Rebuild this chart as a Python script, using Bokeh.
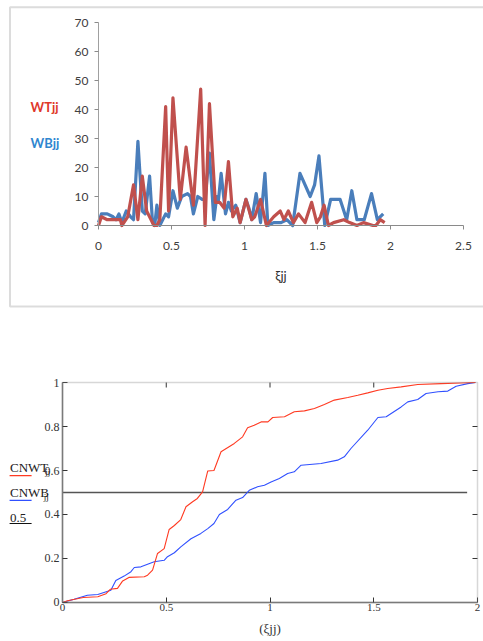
import math
from bokeh.plotting import figure
from bokeh.models import Range1d, FixedTicker, Label, Arrow, BoxAnnotation
from bokeh.layouts import column
from bokeh.embed import file_html
from bokeh.resources import INLINE

# ---------------- data: top chart (WTjj / WBjj vs xi) ----------------
xi_wt = [0, 0.02, 0.06, 0.10, 0.15, 0.16, 0.20, 0.24, 0.27, 0.30,
         0.33, 0.38, 0.40, 0.42, 0.46, 0.48, 0.51, 0.56, 0.60, 0.65,
         0.70, 0.73, 0.76, 0.80, 0.83, 0.86, 0.89, 0.92, 0.95, 0.97,
         1.01, 1.05, 1.07, 1.11, 1.15, 1.20, 1.245, 1.27, 1.30, 1.335,
         1.37, 1.415, 1.46, 1.495, 1.52, 1.545, 1.575, 1.61, 1.68, 1.72,
         1.77, 1.815, 1.88, 1.90, 1.93, 1.96]
wt = [0, 3, 2, 2, 2, 0, 3, 14, 2, 17,
      5, 0, 0, 2, 41, 5, 44, 9, 27, 7,
      47, 0, 42, 8, 8, 6, 22, 3, 6, 1,
      9, 2, 3, 9, 0, 3, 5, 2, 5, 1,
      4, 1, 8, 1, 3, 7, 0, 1, 2, 1,
      0, 1, 0, 0, 2, 1]

xi_wb = [0, 0.02, 0.06, 0.10, 0.12, 0.14, 0.16, 0.19, 0.22, 0.24,
         0.27, 0.30, 0.32, 0.35, 0.37, 0.385, 0.40, 0.42, 0.46, 0.48,
         0.51, 0.54, 0.57, 0.61, 0.63, 0.65, 0.68, 0.71, 0.73, 0.76,
         0.79, 0.81, 0.82, 0.84, 0.87, 0.89, 0.91, 0.94, 0.97, 1.01,
         1.03, 1.05, 1.08, 1.11, 1.14, 1.16, 1.20, 1.25, 1.29, 1.33,
         1.38, 1.45, 1.48, 1.51, 1.55, 1.59, 1.655, 1.70, 1.735, 1.77,
         1.82, 1.87, 1.91, 1.95]
wb = [1, 4, 4, 3, 2, 4, 1, 5, 3, 2,
      29, 5, 4, 17, 1, 0, 7, 0, 4, 3,
      12, 6, 10, 11, 10, 4, 10, 9, 9, 25,
      2, 10, 8, 18, 4, 8, 5, 7, 1, 9,
      6, 2, 11, 1, 18, 0, 1, 1, 2, 0,
      18, 10, 14, 24, 0, 9, 9, 2, 12, 2,
      2, 11, 2, 4]

top_xticks = [0, 0.5, 1, 1.5, 2, 2.5]
top_xlabels = ["0", "0.5", "1", "1.5", "2", "2.5"]
top_yticks = [0, 10, 20, 30, 40, 50, 60, 70]

# ---------------- data: bottom chart (cumulative) ----------------
xi_cwt = [0, 0.024, 0.10, 0.17, 0.21, 0.23, 0.265, 0.29, 0.32, 0.394,
          0.41, 0.434, 0.458, 0.49, 0.514, 0.539, 0.57, 0.595, 0.627, 0.65,
          0.675, 0.70, 0.73, 0.764, 0.828, 0.868, 0.892, 0.924, 0.957, 0.99,
          1.013, 1.07, 1.117, 1.166, 1.214, 1.262, 1.31, 1.375, 1.423, 1.471,
          1.52, 1.567, 1.632, 1.712, 1.825, 1.92, 1.99]
cnwt = [0, 0.008, 0.023, 0.026, 0.04, 0.06, 0.064, 0.098, 0.114, 0.117,
        0.124, 0.147, 0.223, 0.245, 0.332, 0.35, 0.377, 0.435, 0.458, 0.473,
        0.503, 0.598, 0.60, 0.685, 0.723, 0.753, 0.794, 0.806, 0.821, 0.821,
        0.841, 0.844, 0.867, 0.871, 0.882, 0.90, 0.92, 0.932, 0.942, 0.953,
        0.965, 0.973, 0.98, 0.991, 0.995, 0.998, 1.0]

xi_cwb = [0, 0.056, 0.12, 0.17, 0.233, 0.257, 0.297, 0.33, 0.346, 0.378,
          0.41, 0.442, 0.49, 0.506, 0.539, 0.57, 0.619, 0.667, 0.70, 0.73,
          0.756, 0.796, 0.836, 0.868, 0.90, 0.94, 0.973, 1.005, 1.045, 1.085,
          1.117, 1.15, 1.246, 1.326, 1.358, 1.39, 1.471, 1.52, 1.56, 1.632,
          1.664, 1.712, 1.752, 1.81, 1.857, 1.897, 1.953, 1.99]
cnwb = [0, 0.015, 0.033, 0.036, 0.056, 0.10, 0.12, 0.14, 0.159, 0.162,
        0.174, 0.185, 0.192, 0.208, 0.226, 0.253, 0.29, 0.314, 0.336, 0.359,
        0.40, 0.423, 0.465, 0.477, 0.51, 0.526, 0.533, 0.548, 0.564, 0.586,
        0.594, 0.624, 0.632, 0.647, 0.662, 0.70, 0.783, 0.841, 0.844, 0.889,
        0.912, 0.923, 0.95, 0.958, 0.961, 0.983, 0.995, 1.0]

half_level = 0.5
half_xi = [0, 1.95]
bot_xticks = [0, 0.5, 1, 1.5, 2]
bot_xlabels = ["0", "0.5", "1", "1.5", "2"]
bot_yticks = [0, 0.2, 0.4, 0.6, 0.8, 1]
bot_ylabels = ["0", "0.2", "0.4", "0.6", "0.8", "1"]

RED_T = "#C0504D"
BLUE_T = "#4A7EBB"
RED_B = "#FF3A22"
BLUE_B = "#3050FF"
SERIF = "Liberation Serif"

# ================= TOP FIGURE =================
top = figure(width=483, height=310, x_range=Range1d(-0.6712, 2.637), y_range=Range1d(-29.31, 77.59),
             output_backend="svg", toolbar_location=None,
             min_border_left=0, min_border_right=0, min_border_top=0, min_border_bottom=0)
top.outline_line_color = None
top.grid.visible = False

top.add_layout(BoxAnnotation(left=-0.606, right=3.0, bottom=-27.93, top=75.3, fill_color=None,
                             line_color="#8c8c8c", line_width=2))

top.line(xi_wb, wb, line_color=BLUE_T, line_width=3.2, line_join="round")
top.line(xi_wt, wt, line_color=RED_T, line_width=3.2, line_join="round")

xa = top.xaxis[0]
xa.fixed_location = 0
xa.bounds = (0, 2.5)
xa.ticker = FixedTicker(ticks=top_xticks)
xa.major_label_overrides = {t: l for t, l in zip(top_xticks, top_xlabels)}
xa.axis_line_color = "#8a8a8a"
xa.major_tick_line_color = "#8a8a8a"
xa.major_tick_out = 4
xa.major_tick_in = 0
xa.minor_tick_line_color = None
xa.major_label_standoff = 12
xa.major_label_text_font = "Lato"
xa.major_label_text_font_size = "12px"
xa.major_label_text_color = "#404040"
xa.axis_label = "ξjj"
xa.axis_label_text_font = "Lato"
xa.axis_label_text_font_style = "normal"
xa.axis_label_text_font_size = "13px"
xa.axis_label_text_color = "#303030"
xa.axis_label_standoff = 15

ya = top.yaxis[0]
ya.fixed_location = 0
ya.bounds = (0, 70)
ya.ticker = FixedTicker(ticks=top_yticks)
ya.axis_line_color = "#a0a0a0"
ya.major_tick_line_color = "#8a8a8a"
ya.major_tick_out = 4
ya.major_tick_in = 0
ya.minor_tick_line_color = None
ya.major_label_standoff = 6
ya.major_label_text_font = "Lato"
ya.major_label_text_font_size = "12px"
ya.major_label_text_color = "#404040"

top.add_layout(Label(x=-0.465, y=41, text="WTjj", text_color="#E0382A", text_font="Lato",
                     text_font_size="13px", text_font_style="bold", text_baseline="middle"))
top.add_layout(Label(x=-0.465, y=28.3, text="WBjj", text_color="#2F86CF", text_font="Lato",
                     text_font_size="13px", text_font_style="bold", text_baseline="middle"))

# ================= BOTTOM FIGURE =================
bot = figure(width=483, height=331, x_range=Range1d(-0.2988, 2.0289), y_range=Range1d(-0.1773, 1.3273),
             output_backend="svg", toolbar_location=None,
             min_border_left=0, min_border_right=0, min_border_top=0, min_border_bottom=0)
bot.grid.visible = False
bot.outline_line_color = None

bot.add_layout(BoxAnnotation(left=0, right=2, bottom=0, top=1, fill_color=None,
                             line_color="#7a7a7a", line_width=1.5))

# inner tick marks on the top and right edges
bot.ray(x=bot_xticks[1:-1], y=1, length=5, length_units="screen", angle=-math.pi / 2,
        line_color="#333333", line_width=1)
bot.ray(x=2, y=bot_yticks[1:-1], length=5, length_units="screen", angle=math.pi,
        line_color="#333333", line_width=1)

bot.line(half_xi, [half_level, half_level], line_color="#555555", line_width=1.5)
bot.line(xi_cwb, cnwb, line_color=BLUE_B, line_width=1.1)
bot.line(xi_cwt, cnwt, line_color=RED_B, line_width=1.1)

bx = bot.xaxis[0]
bx.fixed_location = 0
bx.bounds = (0, 2)
bx.ticker = FixedTicker(ticks=bot_xticks)
bx.major_label_overrides = {t: l for t, l in zip(bot_xticks, bot_xlabels)}
bx.axis_line_color = "#7a7a7a"
bx.axis_line_width = 1.5
bx.major_tick_in = 5
bx.major_tick_out = 0
bx.major_tick_line_color = "#333333"
bx.minor_tick_line_color = None
bx.major_label_standoff = 2
bx.major_label_text_font = SERIF
bx.major_label_text_font_size = "11px"
bx.major_label_text_color = "#333333"
bx.axis_label = "(ξjj)"
bx.axis_label_text_font = SERIF
bx.axis_label_text_font_style = "normal"
bx.axis_label_text_font_size = "13px"
bx.axis_label_text_color = "#333333"
bx.axis_label_standoff = 6

by = bot.yaxis[0]
by.fixed_location = 0
by.bounds = (0, 1)
by.ticker = FixedTicker(ticks=bot_yticks)
by.major_label_overrides = {t: l for t, l in zip(bot_yticks, bot_ylabels)}
by.axis_line_color = "#7a7a7a"
by.axis_line_width = 1.5
by.major_tick_in = 5
by.major_tick_out = 0
by.major_tick_line_color = "#333333"
by.minor_tick_line_color = None
by.major_label_standoff = 3
by.major_label_text_font = SERIF
by.major_label_text_font_size = "12px"
by.major_label_text_color = "#333333"

# legend-like texts at the left (Mathcad style)
leg_x = -0.253
bot.add_layout(Label(x=leg_x, y=0.614, text="CNWT", text_font=SERIF, text_font_size="13px",
                     text_color="#222222", text_baseline="alphabetic"))
bot.add_layout(Label(x=-0.083, y=0.593, text="jj", text_font=SERIF, text_font_size="9px",
                     text_color="#222222", text_baseline="alphabetic"))
bot.add_layout(Label(x=leg_x, y=0.5, text="CNWB", text_font=SERIF, text_font_size="13px",
                     text_color="#222222", text_baseline="alphabetic"))
bot.add_layout(Label(x=-0.09, y=0.479, text="jj", text_font=SERIF, text_font_size="9px",
                     text_color="#222222", text_baseline="alphabetic"))
bot.add_layout(Label(x=leg_x, y=0.386, text="0.5", text_font=SERIF, text_font_size="13px",
                     text_color="#222222", text_baseline="alphabetic"))

for yy, col in [(0.577, RED_B), (0.464, BLUE_B), (0.359, "#111111")]:
    bot.add_layout(Arrow(end=None, start=None, x_start=-0.255, y_start=yy, x_end=-0.149, y_end=yy,
                         line_color=col, line_width=1.2))

layout = column(top, bot, spacing=0)
open("out.html", "w").write(file_html(layout, INLINE))
